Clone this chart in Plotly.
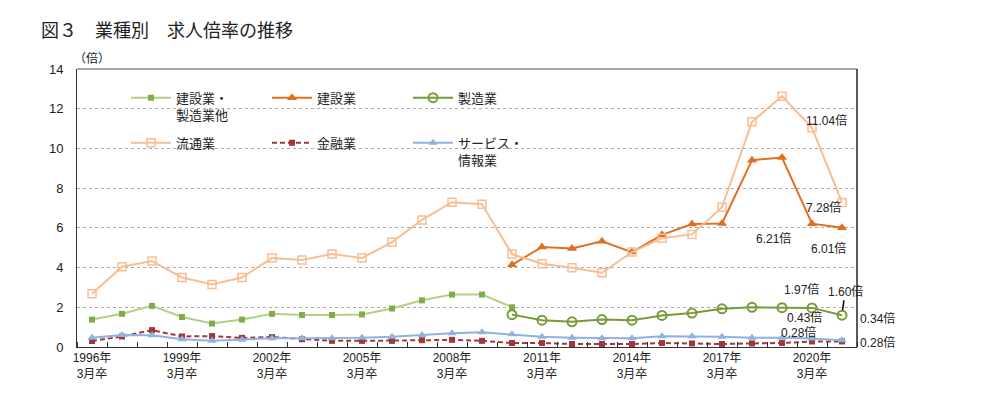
import plotly.graph_objects as go

years = list(range(1996, 2022))

# 建設業・製造業他 (1996-2010)
const_mfg_years = list(range(1996, 2011))
const_mfg = [1.38, 1.67, 2.07, 1.51, 1.18, 1.38, 1.67, 1.61, 1.61, 1.64, 1.94, 2.35, 2.64, 2.64, 2.00]

# 建設業 (2010-2021)
split_years = list(range(2010, 2022))
construction = [4.14, 5.04, 4.96, 5.32, 4.78, 5.65, 6.19, 6.22, 9.41, 9.54, 6.21, 6.01]

# 製造業 (2010-2021)
manufacturing = [1.63, 1.35, 1.27, 1.38, 1.35, 1.59, 1.71, 1.92, 2.00, 1.98, 1.97, 1.60]

# 流通業 (1996-2021)
distribution = [2.68, 4.04, 4.33, 3.50, 3.15, 3.50, 4.48, 4.38, 4.68, 4.48, 5.28, 6.40, 7.29, 7.19,
                4.68, 4.19, 3.99, 3.74, 4.78, 5.48, 5.67, 7.04, 11.34, 12.63, 11.04, 7.28]

# 金融業 (1996-2021)
finance = [0.30, 0.53, 0.85, 0.53, 0.55, 0.46, 0.50, 0.39, 0.31, 0.31, 0.31, 0.34, 0.36, 0.31,
           0.20, 0.20, 0.15, 0.15, 0.15, 0.20, 0.18, 0.15, 0.18, 0.20, 0.28, 0.28]

# サービス・情報業 (1996-2021)
service = [0.47, 0.60, 0.59, 0.39, 0.31, 0.36, 0.44, 0.44, 0.44, 0.46, 0.51, 0.61, 0.69, 0.74,
           0.64, 0.51, 0.47, 0.44, 0.44, 0.54, 0.54, 0.51, 0.47, 0.47, 0.43, 0.34]

tick_years = [1996, 1999, 2002, 2005, 2008, 2011, 2014, 2017, 2020]
tick_text = [f"{y}年<br>3月卒" for y in tick_years]

FONT = "Liberation Sans, Arial, Noto Sans CJK JP, sans-serif"
JP = "Noto Sans CJK JP, Liberation Sans, sans-serif"

# page body has an 8px margin; lay out in page pixels
OFF = 8
W, H = 999 - OFF, 393 - OFF
ML, MT = 77 - OFF, 69 - OFF
PLOT_R, PLOT_B = 857 - OFF, 353 - OFF
MR, MB = W - PLOT_R, H - PLOT_B
PW, PH = PLOT_R - ML, PLOT_B - MT


def px(x):
    return (x - OFF - ML) / PW


def py(y):
    return (PLOT_B - (y - OFF)) / PH


fig = go.Figure()

fig.add_trace(go.Scatter(x=const_mfg_years, y=const_mfg, name="建設業・<br>製造業他", mode="lines+markers",
                         line=dict(color="#B3D08A", width=2),
                         marker=dict(symbol="square", size=6, color="#7FAE48"), legend="legend"))
fig.add_trace(go.Scatter(x=split_years, y=construction, name="建設業", mode="lines+markers",
                         line=dict(color="#E07020", width=2),
                         marker=dict(symbol="triangle-up", size=9, color="#E07020"), legend="legend"))
fig.add_trace(go.Scatter(x=split_years, y=manufacturing, name="製造業", mode="lines+markers",
                         line=dict(color="#7A9A3A", width=2),
                         marker=dict(symbol="circle-open", size=9, color="#7A9A3A", line=dict(width=2)),
                         legend="legend"))
fig.add_trace(go.Scatter(x=years, y=distribution, name="流通業", mode="lines+markers",
                         line=dict(color="#F7BE94", width=2),
                         marker=dict(symbol="square-open", size=8, color="#F7BE94", line=dict(width=1.5)),
                         legend="legend2"))
fig.add_trace(go.Scatter(x=years, y=finance, name="金融業", mode="lines+markers",
                         line=dict(color="#A0383A", width=2, dash="5px,3px"),
                         marker=dict(symbol="square", size=6, color="#A0383A"), legend="legend2"))
fig.add_trace(go.Scatter(x=years, y=service, name="サービス・<br>情報業", mode="lines+markers",
                         line=dict(color="#8DB3E2", width=2),
                         marker=dict(symbol="triangle-up", size=8, color="#8DB3E2"), legend="legend2"))


def ann(x, y, text, xs, ys, **kw):
    d = dict(x=x, y=y, xref="x", yref="y", text=text, showarrow=False,
             xshift=xs, yshift=ys, font=dict(size=12, color="#222", family=FONT))
    d.update(kw)
    fig.add_annotation(**d)


ann(2020, 11.04, "11.04倍", 14, 7)
ann(2021, 7.28, "7.28倍", -19, -5)
ann(2020, 6.21, "6.21倍", -39, -15)
ann(2021, 6.01, "6.01倍", -14, -21)
ann(2020, 1.97, "1.97倍", -11, 18)
fig.add_annotation(x=2021, y=1.60, xref="x", yref="y", text="1.60倍", showarrow=True,
                   arrowhead=0, arrowwidth=1.5, arrowcolor="#000", ax=3, ay=-24, standoff=5,
                   font=dict(size=12, color="#222", family=FONT))
ann(2020, 0.43, "0.43倍", -8, 21)
ann(2021, 0.34, "0.34倍", 35, 22)
ann(2020, 0.28, "0.28倍", -14, 9)
ann(2021, 0.28, "0.28倍", 35, -1)

fig.add_annotation(x=px(72), y=py(57), xref="paper", yref="paper", text="（倍）", showarrow=False,
                   xanchor="left", yanchor="middle",
                   font=dict(size=12, color="#222", family=JP))
fig.add_annotation(x=px(39), y=py(28), xref="paper", yref="paper", text="図３　業種別　求人倍率の推移",
                   showarrow=False, xanchor="left", yanchor="middle",
                   font=dict(size=18, color="#222", family=JP))

# right frame border
fig.add_shape(type="rect", xref="paper", yref="paper", x0=px(995), x1=px(999), y0=py(393), y1=py(8),
              fillcolor="#666", line=dict(width=0), layer="above")

leg_common = dict(orientation="h", xanchor="left", yanchor="top",
                  entrywidth=86, entrywidthmode="pixels", valign="top",
                  bgcolor="rgba(0,0,0,0)", font=dict(size=13, family=JP, color="#222"),
                  itemwidth=40, tracegroupgap=0)

fig.update_layout(
    width=W, height=H,
    margin=dict(l=ML, r=MR, t=MT, b=MB, pad=0),
    paper_bgcolor="white", plot_bgcolor="white",
    font=dict(family=FONT, size=12, color="#222"),
    showlegend=True,
    legend=dict(x=px(126), y=py(83), **leg_common),
    legend2=dict(x=px(126), y=py(129), **leg_common),
    xaxis=dict(range=[1995.5, 2021.5], tickmode="array", tickvals=tick_years, ticktext=tick_text,
               ticks="", showgrid=False, zeroline=False,
               showline=True, linecolor="#333", linewidth=1, mirror=False,
               tickfont=dict(size=12, family=FONT, color="#222"),
               minor=dict(tickmode="linear", tick0=1995.5, dtick=1, ticks="inside", ticklen=5,
                          tickcolor="#333", showgrid=False)),
    yaxis=dict(range=[0, 14], tickmode="array", tickvals=list(range(0, 15, 2)),
               showgrid=True, gridcolor="#AAAAAA", griddash="dot", gridwidth=1,
               zeroline=False, showline=True, linecolor="#333", linewidth=1,
               ticks="", ticklabelstandoff=10,
               tickfont=dict(size=13, family=FONT, color="#222")),
)
# top and right border of plot area
fig.add_shape(type="line", xref="paper", yref="paper", x0=0, x1=1, y0=1, y1=1,
              line=dict(color="#888", width=1.5))
fig.add_shape(type="line", xref="paper", yref="paper", x0=1, x1=1, y0=0, y1=1,
              line=dict(color="#222", width=1.5))

fig.write_html("out.html")
